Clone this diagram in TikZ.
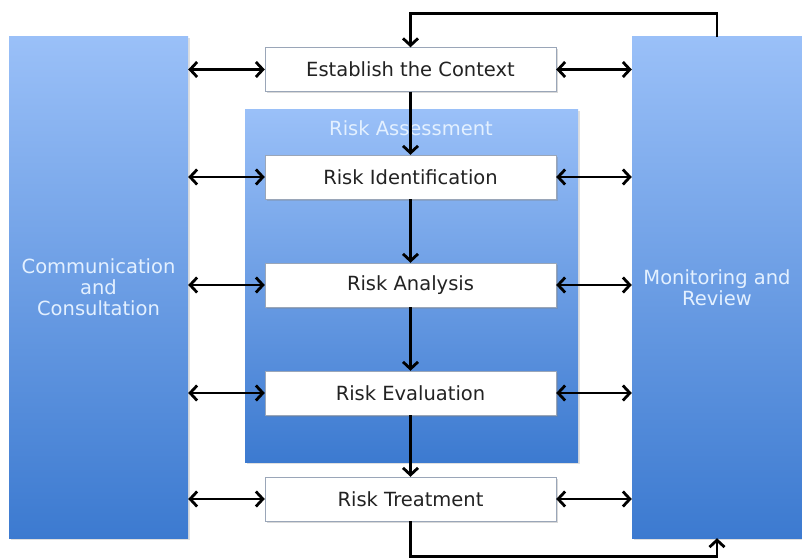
\documentclass[tikz,border=0pt]{standalone}
\usepackage{fontspec}
\setmainfont{DejaVu Sans}
\usetikzlibrary{arrows.meta, calc, shadows}
\definecolor{panelTop}{HTML}{9AC0F8}
\definecolor{panelBot}{HTML}{3C7AD0}
\definecolor{boxEdge}{HTML}{9AA6B8}
\definecolor{panelText}{HTML}{E3F0FF}
\definecolor{boxText}{HTML}{222222}

\tikzset{
	panel/.style={draw=none, top color=panelTop, bottom color=panelBot, inner sep=0pt,
		text=panelText, align=center, font=\fontsize{19.5}{21}\selectfont,
		drop shadow={shadow xshift=1.5pt, shadow yshift=-1.5pt, opacity=0.25}},
	stepbox/.style={draw=boxEdge, fill=white, minimum width=291pt, minimum height=44pt,
		inner sep=0pt, text=boxText, font=\fontsize{19.5}{22}\selectfont,
		drop shadow={shadow xshift=1.5pt, shadow yshift=-1.5pt, opacity=0.3}},
	flow/.style={line width=2.8pt, -{Straight Barb[length=7pt, width=15pt]}},
	both/.style={line width=2.8pt, {Straight Barb[length=7pt, width=15pt]}-{Straight Barb[length=7pt, width=15pt]}}
}

\begin{document}
\begin{tikzpicture}[x=1pt, y=-1pt]

	\useasboundingbox (0,0) rectangle (802,559);

	% side panels
	\node[panel, minimum width=179pt, minimum height=501pt] (comm) at (98.5,287.5) {Communication\\and\\Consultation};
	\node[panel, minimum width=170pt, minimum height=501pt] (mon) at (717,287.5) {Monitoring and\\Review};

	% risk assessment panel
	\node[panel, minimum width=333pt, minimum height=352pt] (assess) at (411.5,286) {};
	\node[text=panelText, font=\fontsize{19.5}{22}\selectfont] (assessTitle) at (411,128) {Risk Assessment};

	% steps
	\node[stepbox] (ctx) at (410.5,69.5) {Establish the Context};
	\node[stepbox] (ident) at (410.5,177) {Risk Identification};
	\node[stepbox] (anal) at (410.5,285) {Risk Analysis};
	\node[stepbox] (eval) at (410.5,393) {Risk Evaluation};
	\node[stepbox] (treat) at (410.5,499) {Risk Treatment};

	% main flow
	\draw[flow] (ctx.south) -- (ident.north);
	\draw[flow] (ident.south) -- (anal.north);
	\draw[flow] (anal.south) -- (eval.north);
	\draw[flow] (eval.south) -- (treat.north);

	% feedback loop
	\draw[flow] (mon.north) -- ++(0,-23) -| (ctx.north);
	\draw[flow] (treat.south) -- ++(0,35) -| (mon.south);

	% links to the side panels
	\foreach \s in {ctx, ident, anal, eval, treat}{
		\draw[both] (comm.east |- \s) -- (\s.west);
		\draw[both] (\s.east) -- (\s -| mon.west);
	}

\end{tikzpicture}
\end{document}
